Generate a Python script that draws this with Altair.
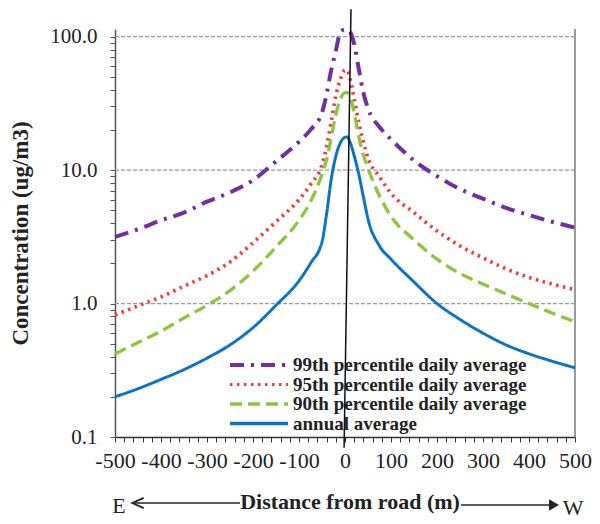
import altair as alt
import pandas as pd

# ---- data ----
distance = [-500, -450, -400, -350, -300, -250, -200, -150, -100, -75, -50, -40, -30, -20, -10,
            0, 5, 10, 20, 30, 40, 50, 75, 100, 150, 200, 250, 300, 350, 400, 450, 500]
p99 = [3.15, 3.6, 4.2, 4.8, 5.8, 6.8, 8.4, 11.6, 16.3, 20, 27, 37, 56, 78, 108,
       113, 113, 110, 88, 57, 38, 29, 21, 17, 11.8, 9.0, 7.2, 6.1, 5.2, 4.6, 4.1, 3.7]
p95 = [0.82, 0.96, 1.12, 1.35, 1.62, 2.05, 2.85, 4.1, 6.0, 7.8, 11.0, 15.0, 23, 36, 48,
       56, 56, 50, 34, 22.5, 16.3, 12.3, 8.9, 6.7, 4.8, 3.5, 2.7, 2.2, 1.82, 1.57, 1.4, 1.27]
p90 = [0.42, 0.51, 0.62, 0.78, 0.97, 1.25, 1.75, 2.65, 4.2, 5.8, 9.3, 12, 17.5, 26, 34,
       38, 38, 36, 27, 17.8, 13, 10.3, 6.4, 4.5, 3.0, 2.15, 1.68, 1.4, 1.18, 1.0, 0.85, 0.73]
annual = [0.2, 0.23, 0.27, 0.32, 0.39, 0.49, 0.66, 0.97, 1.48, 2.0, 2.9, 4.7, 8.5, 12.7, 16,
          17.6, 17.7, 16.5, 12.8, 9.3, 6.3, 4.3, 2.7, 2.15, 1.45, 1.0, 0.76, 0.6, 0.49, 0.42, 0.37, 0.33]

series_names = ["99th percentile daily average", "95th percentile daily average",
                "90th percentile daily average", "annual average"]

# road marker (drawn slightly slanted in the original)
road_x = [-2, 13]
road_y = [0.083, 160]

grid_levels = [1, 10, 100]
x_tick_values = list(range(-500, 501, 20))
y_tick_values = sorted(set(round(m * 10 ** e, 6) for e in [-1, 0, 1] for m in range(1, 10))) + [100]

# ---- styles ----
colors = ["#7030A0", "#F23C3C", "#8CC63F", "#0B74C4"]
dashes = [[14, 7, 3, 7], [2.5, 4.5], [12, 6], [1, 0]]
widths = [4, 3, 3.5, 3.5]
SERIF = "Liberation Serif"

rows = []
for name, vals in zip(series_names, [p99, p95, p90, annual]):
    for d, v in zip(distance, vals):
        rows.append({"distance": d, "conc": v, "series": name})
df = pd.DataFrame(rows)

x_scale = alt.Scale(domain=[-500, 500], nice=False, zero=False)
y_scale = alt.Scale(type="log", domain=[0.1, 114], nice=False)

x_axis = alt.Axis(values=x_tick_values,
                  labelExpr="datum.value % 100 == 0 ? '' + datum.value : ''",
                  title=None, grid=False, tickSize=5, tickColor="#333",
                  domainColor="#333", domainWidth=1.5,
                  labelFont=SERIF, labelFontSize=22, labelColor="#222",
                  labelPadding=8, labelFlush=False, labelOverlap=False)
y_axis = alt.Axis(values=y_tick_values,
                  labelExpr="indexof([0.1,1,10,100], datum.value) >= 0 ? format(datum.value, '.1f') : ''",
                  grid=False, tickSize=5, tickColor="#555",
                  domainColor="#555", domainWidth=1.5,
                  labelFont=SERIF, labelFontSize=21, labelColor="#222",
                  labelPadding=13, labelOverlap=False,
                  title="Concentration  (ug/m3)", titleFont=SERIF,
                  titleFontSize=23, titleFontWeight="bold", titleColor="#222",
                  titleX=-95, titleY=204, titleAngle=270,
                  titleAlign="center", titleBaseline="middle")

one = pd.DataFrame({"a": [0]})

grid = alt.Chart(pd.DataFrame({"g": grid_levels})).mark_rule(
    color="#9a9a9a", strokeDash=[4, 2], strokeWidth=1.3
).encode(
    y=alt.Y("g:Q", scale=y_scale, axis=y_axis),
    x=alt.value(0), x2=alt.value(460)
)

right_border = alt.Chart(one).mark_rule(color="#9a9a9a", strokeWidth=2).encode(
    x=alt.value(460), y=alt.value(0), y2=alt.value(408)
)

lines = alt.Chart(df).mark_line(interpolate="monotone").encode(
    x=alt.X("distance:Q", scale=x_scale, axis=x_axis),
    y=alt.Y("conc:Q", scale=y_scale, axis=y_axis),
    color=alt.Color("series:N", scale=alt.Scale(domain=series_names, range=colors), legend=None),
    strokeDash=alt.StrokeDash("series:N", scale=alt.Scale(domain=series_names, range=dashes), legend=None),
    strokeWidth=alt.StrokeWidth("series:N", scale=alt.Scale(domain=series_names, range=widths), legend=None),
)

# manual legend
legend_layers = []
for i, name in enumerate(series_names):
    yy = 336 + 19.5 * i
    legend_layers.append(
        alt.Chart(one).mark_rule(color=colors[i], strokeDash=dashes[i], strokeWidth=widths[i]).encode(
            x=alt.value(115), x2=alt.value(173), y=alt.value(yy))
    )
    legend_layers.append(
        alt.Chart(one).mark_text(align="left", baseline="middle", font=SERIF, fontSize=19,
                                 fontWeight="bold", color="#222").encode(
            x=alt.value(178), y=alt.value(yy), text=alt.value(name))
    )

road = alt.Chart(pd.DataFrame({"x": [road_x[0]], "x2": [road_x[1]],
                               "y": [road_y[0]], "y2": [road_y[1]]})).mark_rule(
    color="#111", strokeWidth=1.5
).encode(
    x=alt.X("x:Q", scale=x_scale, axis=x_axis), x2="x2:Q",
    y=alt.Y("y:Q", scale=y_scale, axis=y_axis), y2="y2:Q"
)

# x title with E / W arrows
x_title = alt.Chart(one).mark_text(font=SERIF, fontSize=22, fontWeight="bold", color="#222",
                                   align="center", baseline="middle").encode(
    x=alt.value(235), y=alt.value(473), text=alt.value("Distance from road (m)"))
e_label = alt.Chart(one).mark_text(font=SERIF, fontSize=22, color="#222",
                                   align="center", baseline="middle").encode(
    x=alt.value(4), y=alt.value(477), text=alt.value("E"))
w_label = alt.Chart(one).mark_text(font=SERIF, fontSize=22, color="#222",
                                   align="center", baseline="middle").encode(
    x=alt.value(458), y=alt.value(479), text=alt.value("W"))
left_arrow = alt.Chart(one).mark_rule(color="#222", strokeWidth=1.5).encode(
    x=alt.value(18), x2=alt.value(125), y=alt.value(474))
left_head = alt.Chart(one).mark_point(shape="M 1 -0.9 L -1 0 L 1 0.9", filled=False,
                                      color="#222", strokeWidth=1.8, size=130, opacity=1).encode(
    x=alt.value(23), y=alt.value(474))
right_arrow = alt.Chart(one).mark_rule(color="#222", strokeWidth=1.5).encode(
    x=alt.value(346), x2=alt.value(436), y=alt.value(476))
right_head = alt.Chart(one).mark_point(shape="triangle-right", filled=True,
                                       color="#222", size=130, opacity=1).encode(
    x=alt.value(439), y=alt.value(476))

chart = alt.layer(
    grid, right_border, lines, *legend_layers, road,
    x_title, e_label, w_label, left_arrow, left_head, right_arrow, right_head
).properties(
    width=460, height=408,
    autosize=alt.AutoSizeParams(type="none"),
    padding={"left": 107, "top": 21, "right": 17, "bottom": 87},
).configure_view(stroke=None)

chart.save("out.html", embed_options={"renderer": "svg", "actions": False})
